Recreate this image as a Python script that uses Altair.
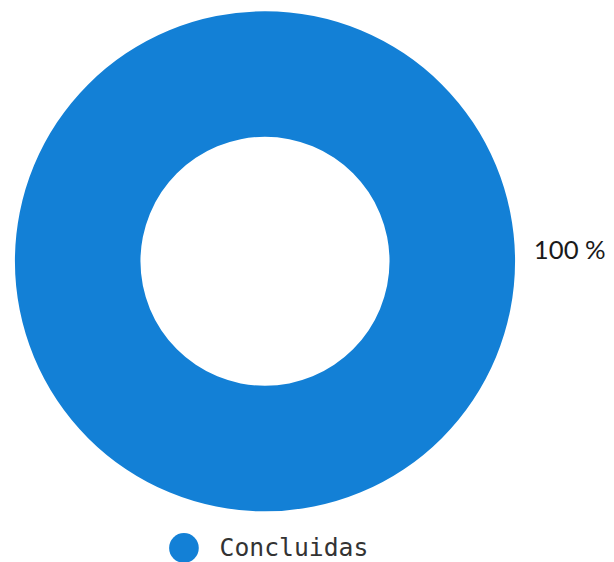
import altair as alt
import pandas as pd

categories = ["Concluidas"]
values = [100]
labels = ["100 %"]
colors = ["#1380d6"]

df = pd.DataFrame({"estado": categories, "valor": values, "rotulo": labels})

color = alt.Color(
    "estado:N",
    scale=alt.Scale(domain=categories, range=colors),
    legend=alt.Legend(
        title=None,
        orient="none",
        legendX=163,
        legendY=526,
        padding=0,
        symbolType="circle",
        symbolSize=900,
        symbolStrokeWidth=0,
        labelFont="DejaVu Sans Mono",
        labelFontSize=25,
        labelColor="#333333",
        labelOffset=21,
    ),
)

arc = alt.Chart(df).mark_arc(innerRadius=126, outerRadius=253, stroke=None).encode(
    theta=alt.Theta("valor:Q", stack=True),
    color=color,
)

text = alt.Chart(df).mark_text(
    align="left", baseline="middle", font="Lato", fontSize=26, color="#1a1a1a", dy=-10
).encode(
    theta=alt.value(1.5708),
    radius=alt.value(272),
    text="rotulo:N",
)

chart = alt.layer(arc, text).properties(
    width=520, height=502, padding=0
).configure_view(stroke=None)

chart.save("out.html", embed_options={"renderer": "svg", "actions": False})
